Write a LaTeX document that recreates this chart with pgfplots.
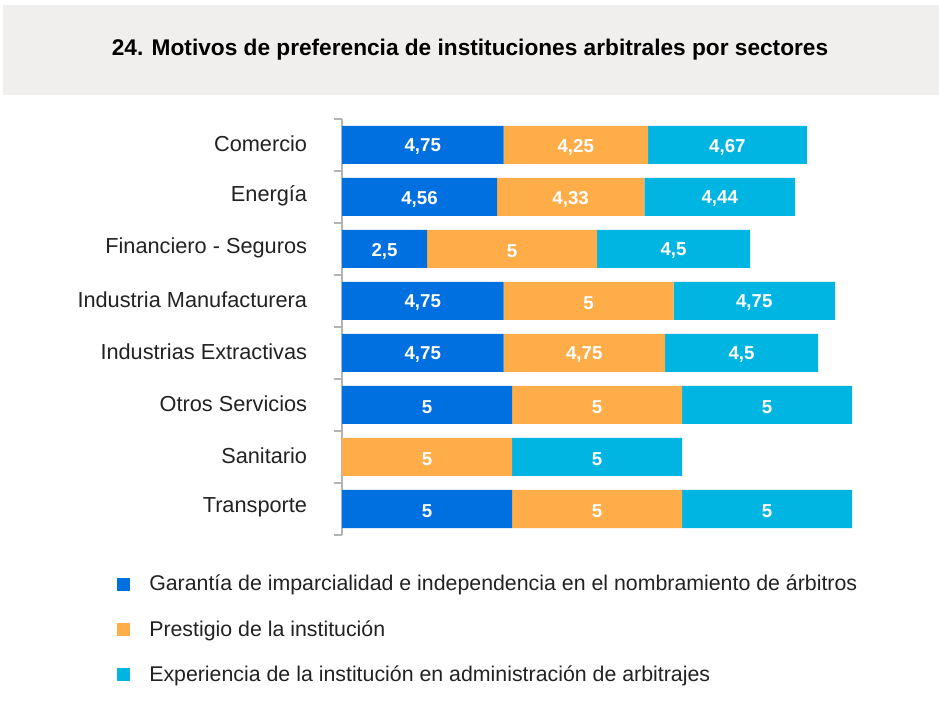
\documentclass[border=0pt]{standalone}
\usepackage{fontspec}
\setmainfont{Liberation Sans}
\usepackage{pgfplots}
\pgfplotsset{compat=1.18}
\usepackage{pgfplotstable}
\definecolor{cBlue}{HTML}{006FE0}
\definecolor{cOrange}{HTML}{FFAD48}
\definecolor{cCyan}{HTML}{00B5E2}
\definecolor{cBand}{HTML}{F1EFEE}
\definecolor{cAxis}{HTML}{B4B4B4}
\definecolor{cText}{HTML}{222222}
\pgfplotstableread{
idx v
0 4.75
1 4.56
2 2.5
3 4.75
4 4.75
5 5
6 0
7 5
}\tG
\pgfplotstableread{
idx v
0 4.25
1 4.33
2 5
3 5
4 4.75
5 5
6 5
7 5
}\tP
\pgfplotstableread{
idx v
0 4.67
1 4.44
2 4.5
3 4.75
4 4.5
5 5
6 5
7 5
}\tE
\begin{document}
\begin{tikzpicture}
\path[fill=white] (0,0) rectangle (704.25pt,545.25pt);
\fill[cBand] (2.25pt,474pt) rectangle (704.25pt,541.5pt);
\node[font=\bfseries\fontsize{17}{20}\selectfont, text=black] at (352.5pt,508pt) {24. Motivos de preferencia de instituciones arbitrales por sectores};
\begin{axis}[
  at={(256.5pt,144pt)}, anchor=south west,
  scale only axis, width=382.5pt, height=312pt,
  xbar stacked, bar width=28.5pt,
  xmin=0, xmax=15, ymin=-0.5, ymax=7.5, y dir=reverse,
  enlargelimits=false, clip=false,
  axis x line=none, axis y line*=left,
  y axis line style={cAxis, line width=1.3pt},
  ytick={-0.5,0.5,...,7.5}, yticklabels={},
  tick align=outside, major tick length=6pt,
  ytick style={cAxis, line width=1.3pt},
  extra y ticks={0,1,2,3,4,5,6,7},
  extra y tick labels={Comercio,Energía,Financiero - Seguros,Industria Manufacturera,Industrias Extractivas,Otros Servicios,Sanitario,Transporte},
  extra y tick style={major tick length=0pt, tick style={draw=none}},
  yticklabel style={font=\fontsize{16.3}{19}\selectfont, text=cText, inner sep=0pt, xshift=-26pt, yshift=1pt},
  point meta=explicit,
  nodes near coords={\pgfmathfloatifflags{\pgfplotspointmeta}{0}{}{\pgfmathprintnumber{\pgfplotspointmeta}}},
  every node near coord/.append style={anchor=center, yshift=-1.5pt, font=\bfseries\fontsize{14}{16}\selectfont, text=white},
  /pgf/number format/use comma,
  /pgf/number format/assume math mode=true,
  legend style={at={(-0.449,-0.095)}, anchor=north west, draw=none, fill=none,
    font=\fontsize{16}{19}\selectfont, text=cText, row sep=21pt,
    nodes={inner sep=0pt, text height=10pt, text depth=3pt},
    /tikz/every odd column/.append style={column sep=14.25pt}},
  legend cell align=left,
  legend image code/.code={\path[#1, draw=none] (0pt,-3.375pt) rectangle (9.75pt,6.375pt);},
]
\addplot[fill=cBlue, draw=none] table[x=v, y=idx, meta=v] {\tG};
\addplot[fill=cOrange, draw=none] table[x=v, y=idx, meta=v] {\tP};
\addplot[fill=cCyan, draw=none] table[x=v, y=idx, meta=v] {\tE};
\legend{Garantía de imparcialidad e independencia en el nombramiento de árbitros, Prestigio de la institución, Experiencia de la institución en administración de arbitrajes}
\end{axis}
\end{tikzpicture}
\end{document}
